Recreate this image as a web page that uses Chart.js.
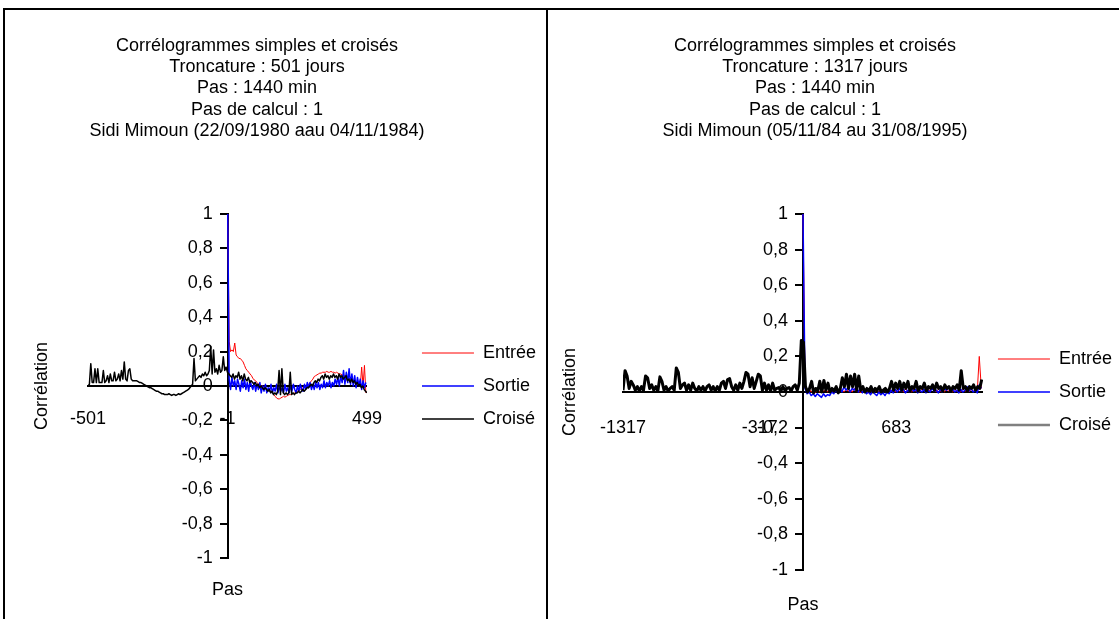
<!DOCTYPE html>
<html lang="fr">
<head>
<meta charset="utf-8">
<title>Corrélogrammes simples et croisés</title>
<script src="https://cdn.jsdelivr.net/npm/chart.js@4.4.1/dist/chart.umd.min.js"></script>
<style>
  html, body { margin: 0; padding: 0; background: #fff; overflow: hidden; }
  .box { position: absolute; top: 8px; height: 640px; border: 2px solid #000; overflow: hidden; background: #fff; }
  #boxLeft { left: 3px; width: 541px; }
  #boxRight { left: 546px; width: 600px; }
  canvas { position: absolute; top: 0; }
  #chartLeft { left: -45px; }
  #chartRight { left: -59px; }
</style>
</head>
<body>
<div class="box" id="boxLeft"><canvas id="chartLeft" width="600" height="640"></canvas></div>
<div class="box" id="boxRight"><canvas id="chartRight" width="640" height="640"></canvas></div>
<script>
Chart.defaults.font.family = '"Liberation Sans", Arial, sans-serif';
Chart.defaults.color = '#000';

const seriesNames = ['Entrée', 'Sortie', 'Croisé'];

// --- left chart : 22/09/1980 - 04/11/1984 ---
const leftTitle = ['Corrélogrammes simples et croisés', 'Troncature : 501 jours', 'Pas : 1440 min',
  'Pas de calcul : 1', 'Sidi Mimoun (22/09/1980 aau 04/11/1984)'];
const leftXTicks = [-501, -1, 499];
const leftCrossStart = -501;   // lags of Croisé, every 5 days
const leftAutoStart = 0;       // lags of Entrée / Sortie, every 5 days
const leftStep = 5;

const leftCross = [
  0.0, 0.01, 0.13, 0.02, 0.02, 0.10, 0.02, 0.10, 0.02, 0.02,
  0.02, 0.09, 0.02, 0.03, 0.06, 0.02, 0.07, 0.03, 0.03, 0.08,
  0.03, 0.04, 0.07, 0.03, 0.09, 0.04, 0.14, 0.04, 0.03, 0.09,
  0.10, 0.04, 0.03, 0.03, 0.03, 0.03, 0.025, 0.02, 0.02, 0.015,
  0.01, 0.005, 0.0, -0.005, -0.01, -0.01, -0.015, -0.02, -0.025, -0.03,
  -0.03, -0.035, -0.04, -0.045, -0.045, -0.05, -0.05, -0.05, -0.045, -0.05,
  -0.055, -0.05, -0.05, -0.055, -0.05, -0.045, -0.05, -0.045, -0.04, -0.035,
  -0.03, -0.025, -0.02, -0.01, 0.0, 0.01, 0.16, 0.03, 0.04, 0.05,
  0.06, 0.05, 0.07, 0.06, 0.08, 0.06, 0.07, 0.09, 0.23, 0.07,
  0.21, 0.08, 0.10, 0.07, 0.12, 0.08, 0.09, 0.17, 0.09, 0.11,
  0.08,
  0.07, 0.06, 0.05, 0.07, 0.04, 0.06, 0.05, 0.08, 0.04, 0.06,
  0.03, 0.07, 0.04, 0.03, 0.05, 0.02, 0.03, 0.02, 0.01, 0.02,
  0.0, 0.01, -0.01, 0.0, -0.01, -0.02, -0.01, -0.02, -0.03, -0.02,
  -0.04, -0.03, -0.05, -0.04, -0.05, -0.03, 0.09, -0.05, 0.10, -0.04,
  -0.05, -0.04, -0.05, -0.04, 0.08, -0.05, -0.04, -0.05, -0.04, -0.04,
  -0.03, -0.04, -0.03, -0.02, -0.03, -0.02, -0.01, -0.01, 0.0, 0.01,
  0.0, 0.02, 0.03, 0.02, 0.04, 0.03, 0.05, 0.06, 0.04, 0.07,
  0.05, 0.06, 0.04, 0.06, 0.05, 0.07, 0.05, 0.06, 0.04, 0.07,
  0.05, 0.06, 0.04, 0.05, 0.06, 0.03, 0.04, 0.02, 0.04, 0.02,
  0.03, 0.01, 0.02, 0.0, 0.01, -0.01, 0.0, -0.02, -0.03, -0.04
];
const leftIn = [
  1, 0.26, 0.20, 0.21, 0.20, 0.25, 0.18, 0.17, 0.16, 0.16,
  0.15, 0.14, 0.12, 0.10, 0.09, 0.08, 0.07, 0.06, 0.045, 0.035,
  0.03, 0.02, 0.01, 0.01, 0.0, 0.0, -0.01, -0.01, -0.02, -0.02,
  -0.03, -0.03, -0.04, -0.05, -0.06, -0.07, -0.075, -0.075, -0.07, -0.065,
  -0.06, -0.065, -0.06, -0.055, -0.05, -0.05, -0.045, -0.045, -0.04, -0.035,
  -0.03, -0.03, -0.02, -0.015, -0.01, -0.005, 0.0, 0.005, 0.01, 0.02,
  0.03, 0.04, 0.055, 0.06, 0.065, 0.07, 0.075, 0.075, 0.08, 0.08,
  0.08, 0.085, 0.08, 0.08, 0.085, 0.08, 0.08, 0.075, 0.08, 0.075,
  0.07, 0.07, 0.065, 0.06, 0.06, 0.05, 0.055, 0.045, 0.04, 0.04,
  0.03, 0.03, 0.02, 0.02, 0.01, 0.0, 0.11, 0.0, 0.12, -0.04
];
const leftOut = [
  1, 0.04, -0.02, 0.05, 0.0, 0.03, -0.02, 0.04, 0.01, -0.03,
  0.03, -0.01, 0.04, -0.02, 0.02, -0.03, 0.03, 0.0, -0.02, 0.02,
  -0.03, 0.01, -0.02, 0.02, -0.04, 0.0, -0.03, 0.01, -0.04, -0.01,
  -0.03, 0.01, -0.04, -0.01, -0.03, 0.01, -0.04, 0.0, -0.03, -0.01,
  -0.04, 0.01, -0.03, -0.01, -0.04, 0.0, -0.03, 0.01, -0.02, -0.04,
  0.0, -0.03, 0.01, -0.02, -0.03, 0.01, -0.02, 0.02, -0.01, 0.02,
  -0.02, 0.01, -0.02, 0.02, -0.01, 0.02, -0.02, 0.01, -0.01, 0.03,
  -0.01, 0.02, 0.0, 0.03, -0.01, 0.02, 0.0, 0.04, 0.01, 0.05,
  0.0, 0.06, 0.02, 0.09, 0.01, 0.08, 0.02, 0.10, 0.01, 0.07,
  0.0, 0.06, -0.01, 0.05, 0.0, 0.04, -0.02, 0.03, -0.01, 0.02
];

// --- right chart : 05/11/84 - 31/08/1995 ---
const rightTitle = ['Corrélogrammes simples et croisés', 'Troncature : 1317 jours', 'Pas : 1440 min',
  'Pas de calcul : 1', 'Sidi Mimoun (05/11/84 au 31/08/1995)'];
const rightXTicks = [-1317, -317, 683];
const rightCrossStart = -1317; // every 15 days
const rightAutoStart = 0;
const rightStep = 15;

const rightCross = [
  0.01, 0.12, 0.09, 0.02, 0.06, 0.04, 0.01, 0.03, 0.005, 0.03,
  0.01, 0.09, 0.08, 0.02, 0.04, 0.01, 0.03, 0.005, 0.085, 0.06,
  0.01, 0.03, 0.005, 0.02, 0.03, 0.01, 0.135, 0.11, 0.02, 0.04,
  0.05, 0.01, 0.04, 0.01, 0.05, 0.02, 0.005, 0.03, 0.01, 0.03,
  0.005, 0.03, 0.04, 0.01, 0.03, 0.005, 0.03, 0.01, 0.05, 0.06,
  0.02, 0.07, 0.075, 0.03, 0.01, 0.04, 0.01, 0.05, 0.02, 0.06,
  0.11, 0.10, 0.03, 0.08, 0.02, 0.06, 0.10, 0.09, 0.01, 0.05,
  0.01, 0.04, 0.005, 0.05, 0.01, 0.02, 0.025, 0.005, 0.03, 0.01,
  0.02, 0.025, 0.005, 0.03, 0.04, 0.01, 0.05, 0.29,
  0.28, 0.03, 0.0, 0.02, 0.06, -0.005, 0.02, 0.005, 0.06, 0.0,
  0.065, 0.01, 0.05, 0.0, 0.02, 0.005, 0.03, -0.005, 0.02, 0.08,
  0.03, 0.10, 0.02, 0.09, 0.03, 0.10, 0.01, 0.09, 0.01, 0.03,
  0.0, 0.02, 0.005, 0.03, 0.0, 0.02, 0.01, 0.03, 0.0, 0.01,
  0.02, 0.0, 0.02, 0.06, 0.01, 0.05, 0.02, 0.06, 0.01, 0.05,
  0.02, 0.06, 0.005, 0.03, 0.02, 0.06, 0.005, 0.03, 0.02, 0.05,
  0.005, 0.03, 0.02, 0.04, 0.01, 0.05, 0.02, 0.03, 0.005, 0.04,
  0.02, 0.03, 0.005, 0.03, 0.02, 0.04, 0.01, 0.12, 0.02, 0.03,
  0.005, 0.03, 0.02, 0.04, 0.01, 0.03, 0.02, 0.07
];
const rightIn = [
  1, 0.03, 0.01, 0.02, 0.0, 0.01, -0.005, 0.01, 0.0, 0.015,
  0.005, 0.01, 0.0, 0.02, 0.01, 0.0, 0.015, 0.005, 0.02, 0.01,
  0.0, 0.015, 0.005, 0.01, 0.0, 0.02, 0.005, 0.01, -0.005, 0.01,
  0.0, 0.005, -0.005, 0.01, 0.0, 0.005, 0.01, 0.0, 0.015, 0.005,
  0.01, 0.0, 0.02, 0.005, 0.01, 0.0, 0.015, 0.005, 0.01, 0.0,
  0.02, 0.005, 0.01, 0.0, 0.015, 0.005, 0.01, 0.0, 0.02, 0.01,
  0.0, 0.015, 0.005, 0.02, 0.01, 0.0, 0.015, 0.005, 0.01, 0.0,
  0.02, 0.005, 0.01, 0.0, 0.015, 0.005, 0.01, 0.0, 0.02, 0.005,
  0.01, 0.0, 0.015, 0.005, 0.01, 0.0, 0.2, 0.02
];
const rightOut = [
  1, 0.02, -0.01, 0.0, -0.02, -0.01, -0.025, -0.01, -0.02, -0.03,
  -0.01, -0.025, -0.015, -0.02, 0.0, -0.01, 0.01, -0.005, 0.02, 0.0,
  0.03, 0.01, 0.025, 0.0, 0.02, 0.01, 0.03, 0.0, 0.02, -0.005,
  0.01, -0.01, 0.0, -0.015, 0.005, -0.01, -0.02, 0.0, -0.015, -0.005,
  -0.02, 0.0, -0.01, 0.01, -0.005, 0.015, 0.0, 0.02, 0.005, 0.015,
  -0.005, 0.01, 0.0, 0.02, 0.005, 0.015, -0.005, 0.01, 0.0, 0.015,
  -0.005, 0.01, 0.0, 0.02, 0.005, 0.01, -0.005, 0.015, 0.0, 0.02,
  0.01, 0.025, 0.005, 0.02, 0.0, 0.01, -0.005, 0.015, 0.0, 0.01,
  0.03, 0.005, 0.02, 0.0, 0.01, -0.005, 0.04, 0.02
];

const toPoints = (values, start, step) => values.map((v, i) => ({ x: start + i * step, y: v }));
// centred axes right-align their labels on the axis line: trailing spaces leave room for the tick marks
const fmtY = v => String(Math.round(v * 10) / 10).replace('.', ',') + '   ';
const textFont = { size: 18 };

function buildChart(id, o) {
  const line = { pointRadius: 0, tension: 0, fill: false, xAxisID: 'x', yAxisID: 'y', borderJoinStyle: 'round' };
  return new Chart(document.getElementById(id), {
    type: 'line',
    data: {
      datasets: [
        { ...line, label: seriesNames[0], data: toPoints(o.entree, o.autoStart, o.step), borderColor: '#ff0000', borderWidth: 1, order: 3 },
        { ...line, label: seriesNames[1], data: toPoints(o.sortie, o.autoStart, o.step), borderColor: '#0000ff', borderWidth: 1.5, order: 2 },
        { ...line, label: seriesNames[2], data: toPoints(o.croise, o.crossStart, o.step), borderColor: '#000000', borderWidth: o.crossWidth, order: 1 }
      ]
    },
    options: {
      responsive: false,
      animation: false,
      events: [],
      layout: { padding: { left: o.padL, right: o.padR, top: 0, bottom: o.padB } },
      plugins: {
        tooltip: { enabled: false },
        title: {
          display: true, text: o.title, color: '#000',
          font: { size: 18, weight: 'normal', lineHeight: 1.18 },
          padding: { top: 25.4, bottom: 72.4 }
        },
        legend: {
          position: 'right', fullSize: false, align: 'center', maxWidth: 200,
          labels: {
            usePointStyle: true, pointStyle: 'line', pointStyleWidth: 52,
            padding: 15, font: textFont, color: '#000',
            sort: (a, b) => a.datasetIndex - b.datasetIndex,
            generateLabels: chart => Chart.defaults.plugins.legend.labels.generateLabels(chart).map(item => {
              item.strokeStyle = o.legendColors[item.datasetIndex];
              item.lineWidth = o.legendWidths[item.datasetIndex];
              return item;
            })
          }
        }
      },
      scales: {
        x: {
          type: 'linear', position: { y: 0 }, min: o.xMin, max: o.xMax,
          afterBuildTicks: s => { s.ticks = o.xTicks.map(v => ({ value: v })); },
          grid: { display: false, drawTicks: false },
          border: { display: true, color: '#000', width: 2 },
          ticks: { font: textFont, color: '#000', padding: o.xPad, maxRotation: 0, autoSkip: false, callback: v => String(v) }
        },
        y: {
          type: 'linear', position: { x: 0 }, min: -1, max: 1,
          grid: { display: true, drawOnChartArea: false, drawTicks: true, tickLength: 7, color: '#000', lineWidth: 2 },
          border: { display: true, color: '#000', width: 2 },
          ticks: { stepSize: 0.2, font: textFont, color: '#000', padding: 3, callback: fmtY }
        },
        yLab: {
          type: 'linear', position: 'left', min: 0, max: 1,
          ticks: { display: false }, grid: { display: false }, border: { display: false },
          title: { display: true, text: 'Corrélation', color: '#000', font: textFont, padding: { top: o.corrPad, bottom: 0 } },
          afterFit: s => { s.width = o.leftGap; }
        },
        yPad: {
          type: 'linear', position: 'right', min: 0, max: 1,
          ticks: { display: false }, grid: { display: false }, border: { display: false },
          afterFit: s => { s.width = o.rightGap; }
        },
        xLab: {
          type: 'linear', position: 'bottom', min: 0, max: 1,
          ticks: { display: false }, grid: { display: false }, border: { display: false },
          title: { display: true, text: 'Pas', color: '#000', font: textFont, padding: { top: 0, bottom: o.pasPad } },
          afterFit: s => { s.height = 60; }
        }
      }
    }
  });
}

buildChart('chartLeft', {
  title: leftTitle, xTicks: leftXTicks, xMin: -501, xMax: 499,
  entree: leftIn, sortie: leftOut, croise: leftCross,
  autoStart: leftAutoStart, crossStart: leftCrossStart, step: leftStep, crossWidth: 1.5,
  legendColors: ['#ff0000', '#0000ff', '#000000'], legendWidths: [1, 1.5, 1.5],
  padL: 8, padR: 14, padB: 32, leftGap: 120, rightGap: 40, corrPad: 63.4, pasPad: 17.4, xPad: 22
});

buildChart('chartRight', {
  title: rightTitle, xTicks: rightXTicks, xMin: -1317, xMax: 1317,
  entree: rightIn, sortie: rightOut, croise: rightCross,
  autoStart: rightAutoStart, crossStart: rightCrossStart, step: rightStep, crossWidth: 3,
  legendColors: ['#ff0000', '#0000ff', '#808080'], legendWidths: [1, 1.5, 2.5],
  padL: 19, padR: 7, padB: 20, leftGap: 115, rightGap: 0, corrPad: 51.4, pasPad: 14.4, xPad: 25
});
</script>
</body>
</html>
